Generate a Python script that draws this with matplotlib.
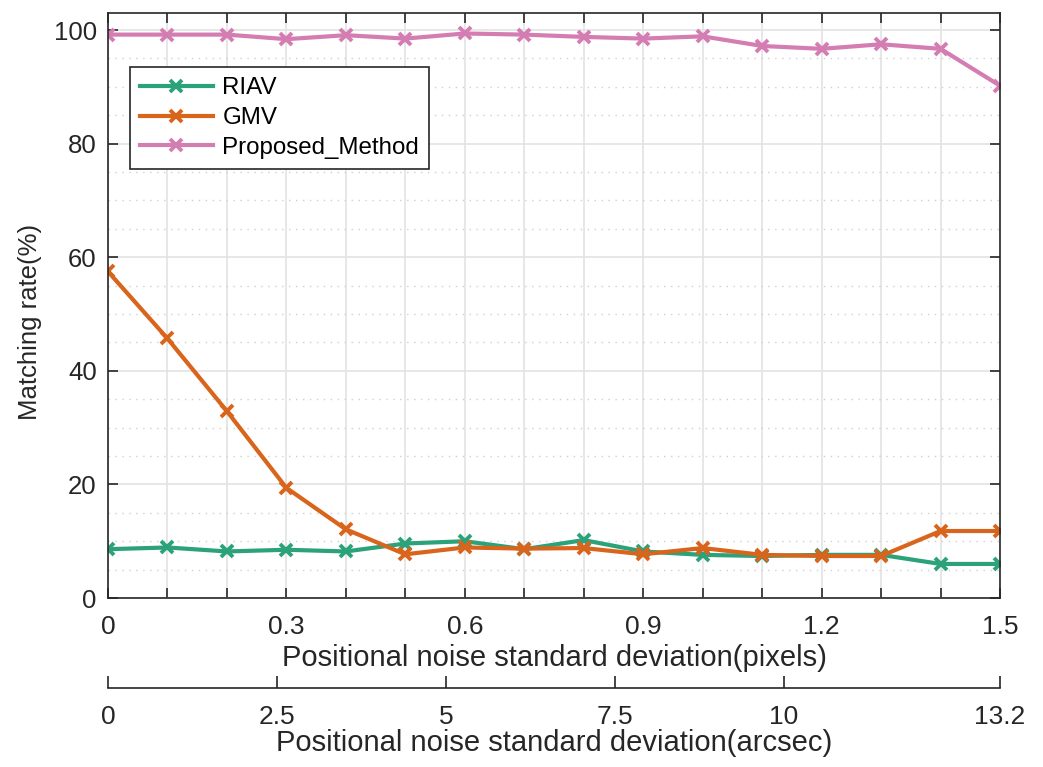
import numpy as np
import matplotlib
matplotlib.use('Agg')
import matplotlib.pyplot as plt
from matplotlib.ticker import MultipleLocator, FixedLocator

# noise std (pixels)
x = np.round(np.arange(0, 1.51, 0.1), 1)

riav = [8.6, 8.9, 8.2, 8.5, 8.2, 9.6, 10.0, 8.6, 10.2, 8.2, 7.6, 7.4, 7.6, 7.6, 6.0, 6.0]
gmv = [57.5, 45.7, 32.9, 19.4, 12.1, 7.7, 8.9, 8.7, 8.8, 7.7, 8.8, 7.6, 7.4, 7.4, 11.8, 11.8]
proposed = [99.2, 99.2, 99.2, 98.4, 99.1, 98.5, 99.4, 99.2, 98.8, 98.5, 98.9, 97.2, 96.7, 97.5, 96.7, 90.2]

series_names = ['RIAV', 'GMV', 'Proposed_Method']
colors = ['#2ca27a', '#d9641c', '#d47db3']

arc_ticks = [0, 2.5, 5, 7.5, 10, 13.2]
arcsec_per_px = 8.8

plt.rcParams['font.family'] = ['Liberation Sans', 'DejaVu Sans']
axcol = '#262626'

fig = plt.figure(figsize=(10.43, 7.67), dpi=100)
ax = fig.add_axes([0.1035, 0.2203, 0.8553, 0.7627])

for vals, name, c in zip([riav, gmv, proposed], series_names, colors):
    ax.plot(x, vals, color=c, lw=3, marker='x', ms=8, mew=2.8, label=name)

ax.set_xlim(0, 1.5)
ax.set_ylim(0, 103)

ax.xaxis.set_major_locator(MultipleLocator(0.1))
ax.set_xticklabels(['%g' % round(t, 1) if round(t * 10) % 3 == 0 else ''
                    for t in ax.get_xticks()])
ax.yaxis.set_major_locator(MultipleLocator(20))
ax.yaxis.set_minor_locator(MultipleLocator(5))

ax.tick_params(which='major', direction='in', top=True, right=True, length=7,
               width=1.2, color=axcol, labelcolor=axcol)
ax.tick_params(which='minor', length=0)
ax.tick_params(axis='x', pad=12, labelsize=19)
ax.tick_params(axis='y', pad=8, labelsize=18.5)

ax.grid(which='major', color='#e3e3e3', lw=1.2)
ax.grid(which='minor', axis='y', color='#cfcfcf', lw=1.0, ls=(0, (1, 4)))
ax.set_axisbelow(True)

for s in ax.spines.values():
    s.set_color(axcol)
    s.set_linewidth(1.2)

ax.set_ylabel('Matching rate(%)', fontsize=18.5, color=axcol)
ax.yaxis.set_label_coords(-0.074, 0.472)
ax.set_xlabel('Positional noise standard deviation(pixels)', fontsize=21,
              color=axcol, labelpad=4)

leg = ax.legend(loc='upper left', bbox_to_anchor=(0.0247, 0.908), borderaxespad=0,
                fancybox=False, fontsize=17.4, handlelength=3.0, labelspacing=0.33,
                borderpad=0.42, handletextpad=0.4, framealpha=1)
leg.get_frame().set_edgecolor(axcol)
leg.get_frame().set_linewidth(1.2)

sec = ax.secondary_xaxis(-0.154, functions=(lambda v: v * arcsec_per_px,
                                             lambda v: v / arcsec_per_px))
sec.xaxis.set_major_locator(FixedLocator(arc_ticks))
sec.set_xticklabels(['%g' % t for t in arc_ticks])
sec.tick_params(direction='in', length=9, width=1.2, color=axcol, labelcolor=axcol,
                pad=12, labelsize=19)
sec.spines['bottom'].set_color(axcol)
sec.spines['bottom'].set_linewidth(1.2)
sec.set_xlabel('Positional noise standard deviation(arcsec)', fontsize=21,
               color=axcol, labelpad=0)

fig.savefig('out.png', dpi=100)
